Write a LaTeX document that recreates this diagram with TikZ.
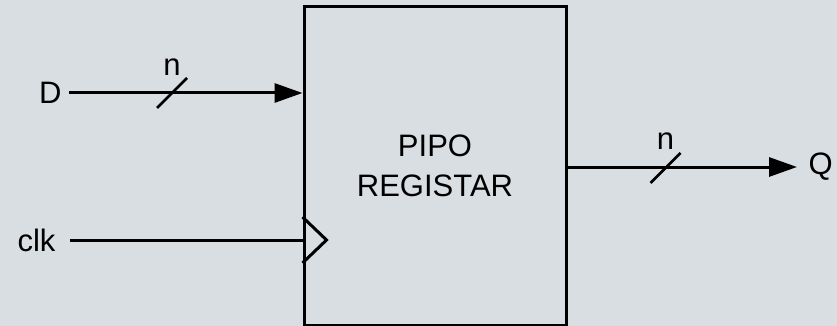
\documentclass[tikz,border=0pt]{standalone}
\usepackage{fontspec}
\setmainfont{Liberation Sans}
\usetikzlibrary{positioning, arrows.meta}
\definecolor{bgcol}{RGB}{217,222,226}

\begin{document}
\begin{tikzpicture}[x=1pt, y=-1pt, line width=3pt, >={Triangle[length=28pt, width=19pt]},
    font=\fontsize{31}{40}\selectfont,
    lbl/.style={inner sep=0pt},
    busmark/.style={line width=2.5pt}]
  \fill[bgcol] (0,0) rectangle (837,326);
  \useasboundingbox (0,0) rectangle (837,326);

  \node[draw, fill=bgcol, minimum width=262pt, minimum height=318pt, inner sep=0pt, align=center] (reg) at (435,166) {PIPO\\REGISTAR};

  % data in
  \coordinate (din) at (69,93);
  \node[lbl, left=6pt of din] (D) {D};
  \draw[->] (din) -- (reg.west |- din);
  \coordinate (dslash) at (172,93);
  \draw[busmark] (dslash) ++(-15,15) -- ++(30,-30);
  \node[lbl, above=16pt of dslash] (dn) {n};

  % clock
  \coordinate (cin) at (70,240);
  \node[lbl, left=13pt of cin] (clk) {clk};
  \draw (cin) -- (reg.west |- cin) coordinate (ctip);
  \draw (ctip) ++(0,-23) -- ++(24,23) -- ++(-24,23);

  % data out
  \coordinate (qout) at (797,167);
  \draw[->] (reg.east |- qout) -- (qout);
  \node[lbl, right=10pt of qout] (Q) {Q};
  \coordinate (qslash) at (665.5,168);
  \draw[busmark] (qslash) ++(-15,15) -- ++(30,-30);
  \node[lbl, above=17pt of qslash] (qn) {n};
\end{tikzpicture}
\end{document}
